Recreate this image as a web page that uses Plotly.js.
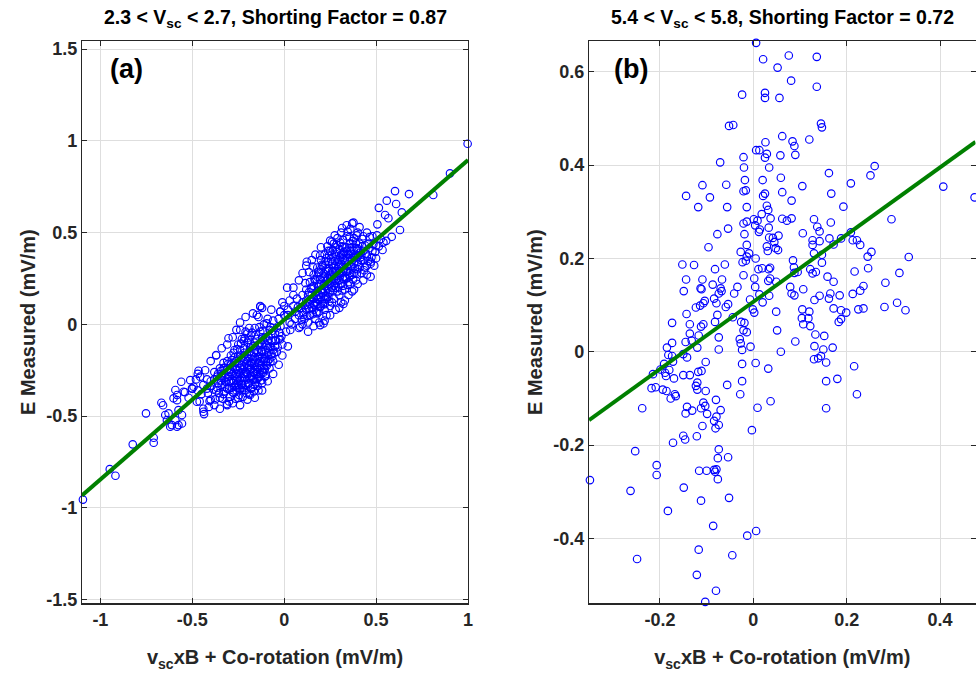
<!DOCTYPE html>
<html>
<head>
<meta charset="utf-8">
<script src="https://cdn.plot.ly/plotly-3.0.1.min.js"></script>
<style>html,body{margin:0;padding:0;background:#fff;}#chart{width:976px;height:673px;}</style>
</head>
<body>
<div id="chart"></div>
<script>
// ---------- Data ----------
// Panel (a): 2.3 < Vsc < 2.7  [x = vscxB + co-rotation, y = E measured] (mV/m)
const scatterA = [
// tail / outliers (negative side)
[-1.095,-0.955],[-0.949,-0.789],[-0.918,-0.825],[-0.824,-0.654],[-0.710,-0.645],[-0.710,-0.618],[-0.752,-0.485],
[-0.668,-0.427],[-0.659,-0.441],[-0.629,-0.485],[-0.620,-0.558],[-0.575,-0.549],[-0.556,-0.494],[-0.583,-0.413],
[-0.592,-0.358],[-0.560,-0.313],[-0.511,-0.304],[-0.575,-0.467],[-0.638,-0.522],[-0.466,-0.253],[-0.439,-0.476],
[-0.436,-0.489],[-0.406,-0.418],[-0.375,-0.409],[-0.312,-0.434],[-0.370,-0.167],[-0.502,-0.349],[-0.475,-0.422],
[-0.583,-0.385],[-0.602,-0.403],[-0.547,-0.367],[-0.493,-0.340],[-0.457,-0.285],[-0.647,-0.494],[-0.592,-0.522],
[-0.556,-0.540],[-0.583,-0.558],[-0.611,-0.549],
// negative cluster core
[-0.45,-0.38],[-0.42,-0.35],[-0.40,-0.41],[-0.38,-0.30],[-0.37,-0.36],[-0.36,-0.27],[-0.35,-0.40],[-0.34,-0.33],
[-0.33,-0.24],[-0.33,-0.38],[-0.32,-0.29],[-0.31,-0.35],[-0.31,-0.20],[-0.30,-0.26],[-0.30,-0.42],[-0.29,-0.31],
[-0.29,-0.17],[-0.28,-0.37],[-0.28,-0.23],[-0.27,-0.28],[-0.27,-0.14],[-0.26,-0.33],[-0.26,-0.20],[-0.25,-0.40],
[-0.25,-0.25],[-0.25,-0.11],[-0.24,-0.30],[-0.24,-0.17],[-0.23,-0.36],[-0.23,-0.22],[-0.23,-0.08],[-0.22,-0.27],
[-0.22,-0.13],[-0.21,-0.33],[-0.21,-0.19],[-0.21,-0.04],[-0.20,-0.24],[-0.20,-0.10],[-0.19,-0.38],[-0.19,-0.29],
[-0.19,-0.15],[-0.18,-0.21],[-0.18,-0.06],[-0.17,-0.34],[-0.17,-0.26],[-0.17,-0.12],[-0.16,-0.18],[-0.16,-0.02],
[-0.15,-0.30],[-0.15,-0.23],[-0.15,-0.08],[-0.14,-0.15],[-0.14,-0.36],[-0.13,-0.27],[-0.13,-0.20],[-0.13,-0.04],
[-0.12,-0.11],[-0.12,-0.32],[-0.11,-0.24],[-0.11,-0.16],[-0.11,0.00],[-0.10,-0.07],[-0.10,-0.28],[-0.09,-0.20],
[-0.09,-0.13],[-0.08,-0.03],[-0.08,-0.24],[-0.07,-0.16],[-0.07,-0.09],[-0.06,0.02],[-0.06,-0.20],[-0.05,-0.12],
[-0.05,-0.05],[-0.04,-0.15],[-0.03,0.03],[-0.03,-0.08],[-0.02,-0.01],[-0.01,-0.11],[0.00,0.05],[0.01,-0.04],
[-0.36,-0.32],[-0.34,-0.28],[-0.32,-0.34],[-0.30,-0.31],[-0.29,-0.26],[-0.28,-0.32],[-0.27,-0.21],[-0.26,-0.27],
[-0.26,-0.36],[-0.25,-0.31],[-0.24,-0.24],[-0.24,-0.35],[-0.23,-0.29],[-0.22,-0.20],[-0.22,-0.31],[-0.21,-0.26],
[-0.21,-0.36],[-0.20,-0.17],[-0.20,-0.30],[-0.19,-0.22],[-0.18,-0.28],[-0.18,-0.35],[-0.17,-0.19],[-0.17,-0.30],
[-0.16,-0.24],[-0.16,-0.33],[-0.15,-0.14],[-0.15,-0.27],[-0.14,-0.21],[-0.14,-0.29],[-0.13,-0.10],[-0.13,-0.24],
[-0.12,-0.18],[-0.12,-0.26],[-0.11,-0.20],[-0.10,-0.14],[-0.10,-0.22],[-0.09,-0.09],[-0.09,-0.17],[-0.08,-0.12],
[-0.08,-0.19],[-0.07,-0.05],[-0.06,-0.14],[-0.05,-0.09],[-0.04,-0.02],[-0.24,-0.14],[-0.22,-0.09],[-0.20,-0.05],
[-0.18,-0.11],[-0.19,-0.02],[-0.27,-0.18],[-0.29,-0.22],[-0.31,-0.25],[-0.33,-0.21],[-0.35,-0.24],[-0.38,-0.26],
[-0.40,-0.31],[-0.42,-0.30],[-0.44,-0.33],[-0.47,-0.36],[-0.48,-0.30],
[-0.345,-0.305],[-0.325,-0.265],[-0.315,-0.315],[-0.305,-0.285],[-0.295,-0.245],[-0.285,-0.345],[-0.275,-0.305],
[-0.265,-0.245],[-0.255,-0.285],[-0.255,-0.345],[-0.245,-0.215],[-0.245,-0.265],[-0.235,-0.325],[-0.235,-0.185],
[-0.225,-0.245],[-0.225,-0.345],[-0.215,-0.285],[-0.215,-0.155],[-0.205,-0.215],[-0.205,-0.265],[-0.195,-0.325],
[-0.195,-0.185],[-0.185,-0.245],[-0.185,-0.125],[-0.175,-0.285],[-0.175,-0.215],[-0.165,-0.155],[-0.165,-0.265],
[-0.155,-0.195],[-0.155,-0.315],[-0.145,-0.245],[-0.145,-0.115],[-0.135,-0.175],[-0.135,-0.285],[-0.125,-0.225],
[-0.125,-0.145],[-0.115,-0.265],[-0.115,-0.085],[-0.105,-0.185],[-0.105,-0.245],[-0.095,-0.115],[-0.095,-0.225],
[-0.085,-0.155],[-0.085,-0.065],[-0.075,-0.205],[-0.075,-0.125],[-0.065,-0.175],[-0.065,-0.035],[-0.055,-0.155],
[-0.045,-0.085],[-0.035,-0.125],[-0.025,-0.045],[-0.015,-0.065],[-0.365,-0.345],[-0.385,-0.355],[-0.395,-0.335],
[-0.415,-0.375],[-0.355,-0.375],[-0.335,-0.405],[-0.325,-0.365],[-0.295,-0.395],[-0.275,-0.375],[-0.265,-0.405],
[-0.245,-0.385],[-0.225,-0.395],[-0.205,-0.375],[-0.185,-0.385],[-0.165,-0.365],[-0.145,-0.335],[-0.125,-0.305],
[-0.105,-0.285],[-0.275,-0.155],[-0.255,-0.135],[-0.285,-0.195],[-0.305,-0.215],[-0.325,-0.235],[-0.345,-0.255],
[-0.365,-0.285],[-0.235,-0.105],[-0.215,-0.075],[-0.195,-0.085],[-0.175,-0.045],[-0.155,-0.055],[-0.135,-0.015],
[-0.115,-0.035],[-0.095,0.005],[-0.075,-0.015],
[-0.30,-0.35],[-0.28,-0.27],[-0.26,-0.30],[-0.24,-0.27],[-0.22,-0.23],[-0.20,-0.27],[-0.18,-0.24],[-0.16,-0.21],
[-0.14,-0.18],[-0.12,-0.15],[-0.10,-0.11],[-0.20,-0.20],[-0.18,-0.17],[-0.16,-0.14],[-0.14,-0.11],[-0.12,-0.07],
[-0.27,-0.34],[-0.23,-0.33],[-0.19,-0.32],[-0.15,-0.26],[-0.11,-0.19],[-0.32,-0.31],[-0.22,-0.17],[-0.16,-0.10],
// negative cluster periphery
[-0.50,-0.35],[-0.52,-0.40],[-0.54,-0.37],[-0.46,-0.42],[-0.44,-0.46],[-0.41,-0.45],[-0.38,-0.44],[-0.35,-0.46],
[-0.31,-0.44],[-0.28,-0.43],[-0.24,-0.44],[-0.20,-0.41],[-0.16,-0.40],[-0.12,-0.36],[-0.09,-0.31],[-0.06,-0.27],
[-0.03,-0.22],[-0.01,-0.17],[0.02,-0.12],[-0.37,-0.17],[-0.34,-0.13],[-0.31,-0.11],[-0.28,-0.07],[-0.26,-0.03],
[-0.24,0.01],[-0.21,0.04],[-0.17,0.06],[-0.14,0.04],[-0.12,0.09],[-0.09,0.03],[-0.07,0.08],[-0.13,0.10],
[-0.02,0.07],[0.03,0.01],[-0.40,-0.20],[-0.43,-0.25],[-0.47,-0.27],
[-0.130,0.096],[-0.149,0.051],[-0.022,0.069],[-0.022,-0.082],[0.033,-0.031],[0.087,-0.013],[0.196,-0.004],
[0.214,0.005],[0.322,0.111],[0.105,0.051],[-0.303,-0.076],[-0.239,-0.031],
[0.00,0.10],[0.03,0.13],[-0.01,0.12],[0.06,0.07],[0.02,0.08],
// positive cluster core
[0.08,0.05],[0.10,0.12],[0.11,0.03],[0.12,0.08],[0.13,0.16],[0.14,0.05],[0.14,0.11],[0.15,0.20],[0.16,0.08],
[0.16,0.14],[0.17,0.24],[0.17,0.03],[0.18,0.11],[0.18,0.18],[0.19,0.28],[0.19,0.07],[0.20,0.15],[0.20,0.22],
[0.21,0.32],[0.21,0.11],[0.22,0.19],[0.22,0.26],[0.23,0.05],[0.23,0.36],[0.23,0.14],[0.24,0.22],[0.24,0.29],
[0.25,0.10],[0.25,0.40],[0.25,0.18],[0.26,0.26],[0.26,0.33],[0.27,0.14],[0.27,0.21],[0.27,0.44],[0.28,0.29],
[0.28,0.37],[0.29,0.18],[0.29,0.25],[0.30,0.32],[0.30,0.41],[0.31,0.12],[0.31,0.22],[0.31,0.28],[0.32,0.36],
[0.32,0.46],[0.33,0.19],[0.33,0.26],[0.34,0.32],[0.34,0.40],[0.35,0.23],[0.35,0.29],[0.36,0.36],[0.36,0.44],
[0.37,0.18],[0.37,0.27],[0.38,0.33],[0.38,0.40],[0.39,0.24],[0.40,0.30],[0.40,0.37],[0.41,0.44],[0.42,0.28],
[0.42,0.35],[0.43,0.40],[0.44,0.31],[0.45,0.37],[0.46,0.44],[0.47,0.33],[0.48,0.40],
[0.12,0.13],[0.13,0.01],[0.15,0.09],[0.15,0.16],[0.16,0.21],[0.17,0.12],[0.18,0.06],[0.18,0.26],[0.19,0.16],
[0.19,0.22],[0.20,0.10],[0.20,0.30],[0.21,0.17],[0.21,0.25],[0.22,0.08],[0.22,0.14],[0.23,0.24],[0.23,0.30],
[0.24,0.17],[0.24,0.34],[0.25,0.27],[0.25,0.22],[0.26,0.12],[0.26,0.38],[0.27,0.31],[0.27,0.25],[0.28,0.20],
[0.28,0.42],[0.29,0.34],[0.29,0.29],[0.30,0.16],[0.30,0.24],[0.31,0.38],[0.31,0.33],[0.32,0.21],[0.32,0.29],
[0.33,0.42],[0.33,0.35],[0.34,0.25],[0.35,0.38],[0.35,0.33],[0.36,0.28],[0.36,0.22],[0.37,0.42],[0.37,0.35],
[0.38,0.28],[0.39,0.38],[0.39,0.44],[0.40,0.34],[0.41,0.31],[0.41,0.39],[0.43,0.35],[0.44,0.43],[0.45,0.32],
[0.29,0.47],[0.31,0.50],[0.34,0.48],[0.36,0.52],[0.38,0.47],[0.26,0.45],[0.24,0.40],[0.22,0.38],[0.20,0.35],
[0.18,0.31],[0.16,0.27],[0.14,0.23],[0.12,0.19],[0.10,0.16],[0.09,0.09],
[0.125,0.045],[0.135,0.085],[0.145,0.135],[0.155,0.055],[0.165,0.105],[0.175,0.155],[0.175,0.065],[0.185,0.205],
[0.185,0.135],[0.195,0.095],[0.195,0.245],[0.205,0.185],[0.205,0.125],[0.215,0.275],[0.215,0.215],[0.225,0.155],
[0.225,0.325],[0.235,0.255],[0.235,0.195],[0.245,0.125],[0.245,0.305],[0.255,0.245],[0.255,0.355],[0.265,0.185],
[0.265,0.285],[0.275,0.345],[0.275,0.225],[0.285,0.265],[0.285,0.395],[0.295,0.205],[0.295,0.315],[0.305,0.265],
[0.305,0.365],[0.315,0.185],[0.315,0.425],[0.325,0.305],[0.325,0.245],[0.335,0.375],[0.335,0.285],[0.345,0.345],
[0.345,0.215],[0.355,0.415],[0.355,0.265],[0.365,0.315],[0.365,0.385],[0.375,0.245],[0.375,0.455],[0.385,0.305],
[0.385,0.365],[0.395,0.415],[0.395,0.275],[0.405,0.325],[0.415,0.365],[0.425,0.425],[0.435,0.295],[0.445,0.385],
[0.455,0.345],[0.465,0.415],[0.475,0.365],[0.485,0.435],[0.495,0.395],[0.515,0.425],[0.525,0.465],[0.505,0.485],
[0.465,0.475],[0.425,0.465],[0.395,0.485],[0.355,0.475],[0.325,0.395],[0.305,0.445],[0.285,0.435],[0.265,0.405],
[0.245,0.375],[0.225,0.345],[0.205,0.325],[0.185,0.285],[0.165,0.245],[0.145,0.195],[0.135,0.175],[0.115,0.105],
[0.105,0.065],[0.095,0.025],[0.075,0.095],[0.115,0.225],[0.135,0.285],[0.155,0.315],[0.195,0.375],[0.235,0.425],
[0.275,0.485],[0.315,0.525],[0.345,0.505],[0.555,0.455],[0.535,0.405],
[0.20,0.19],[0.22,0.22],[0.24,0.25],[0.26,0.29],[0.28,0.32],[0.30,0.35],[0.32,0.38],[0.34,0.42],[0.36,0.40],
[0.30,0.28],[0.28,0.24],[0.26,0.20],[0.24,0.15],[0.22,0.11],[0.34,0.29],[0.38,0.37],[0.40,0.41],[0.42,0.38],
[0.18,0.14],[0.16,0.11],[0.32,0.25],[0.36,0.32],
// positive cluster periphery
[0.02,0.05],[0.04,0.00],[0.05,0.10],[0.06,0.03],[0.07,0.14],[0.08,-0.02],[0.10,0.00],[0.13,-0.04],[0.16,-0.01],
[0.19,0.01],[0.22,0.02],[0.25,0.05],[0.28,0.08],[0.30,0.09],[0.33,0.13],[0.35,0.16],[0.38,0.19],[0.40,0.22],
[0.43,0.24],[0.45,0.27],[0.47,0.26],[0.49,0.32],[0.50,0.36],[0.50,0.43],[0.48,0.48],[0.45,0.50],[0.43,0.48],
[0.41,0.53],[0.40,0.50],[0.37,0.55],[0.34,0.54],[0.05,0.20],[0.08,0.24],[0.10,0.28],[0.12,0.32],[0.123,0.341],
[0.15,0.35],[0.17,0.38],[0.20,0.42],[0.25,0.456],[0.016,0.20],[0.05,0.16],
// upper outliers
[0.998,0.984],[0.902,0.823],[0.811,0.705],[0.603,0.726],[0.679,0.710],[0.558,0.674],[0.515,0.635],[0.609,0.656],
[0.549,0.596],[0.567,0.578],[0.640,0.610],[0.630,0.514],[0.585,0.477],[0.540,0.447],[0.507,0.545],[0.377,0.554],
[0.471,0.341]
];

// Panel (b): 5.4 < Vsc < 5.8
const scatterB = [
[0.006,0.662],[0.021,0.627],[0.052,0.609],[0.076,0.635],[0.136,0.632],[0.081,0.581],[0.136,0.568],[-0.024,0.551],
[0.025,0.555],[0.025,0.544],[0.056,0.544],[-0.052,0.484],[-0.043,0.486],[0.145,0.489],[0.147,0.481],[0.120,0.455],
[0.062,0.462],[0.084,0.451],[0.088,0.441],[0.090,0.422],[0.058,0.421],[0.026,0.449],[0.006,0.432],[0.013,0.432],
[0.029,0.424],[0.025,0.416],[-0.021,0.417],[-0.020,0.395],[0.034,0.395],[-0.071,0.406],[0.059,0.373],[0.020,0.368],
[-0.018,0.368],[-0.109,0.357],[-0.058,0.358],[-0.021,0.344],[-0.016,0.346],[0.062,0.342],[0.025,0.339],[0.021,0.334],
[-0.144,0.334],[-0.093,0.331],[-0.118,0.310],[-0.056,0.310],[-0.014,0.310],[0.029,0.313],[0.032,0.304],[0.082,0.324],
[0.105,0.355],[0.162,0.383],[0.167,0.339],[0.209,0.361],[0.193,0.311],[0.251,0.378],[0.260,0.398],[0.407,0.354],
[0.474,0.331],[0.296,0.284],[0.018,0.295],[0.037,0.286],[0.001,0.284],[0.009,0.281],[-0.014,0.279],[-0.021,0.275],
[0.004,0.271],[0.014,0.262],[0.033,0.266],[0.012,0.257],[0.062,0.285],[0.072,0.281],[0.082,0.286],[0.130,0.284],
[0.166,0.277],[0.137,0.268],[0.142,0.258],[-0.077,0.252],[-0.054,0.264],[-0.019,0.252],[0.106,0.254],[0.054,0.249],
[0.042,0.244],[0.034,0.245],[0.045,0.235],[0.029,0.226],[0.048,0.222],[0.031,0.216],[0.053,0.218],[-0.096,0.224],
[-0.014,0.229],[-0.027,0.214],[-0.009,0.211],[-0.014,0.204],[0.005,0.200],[-0.016,0.195],[0.127,0.239],[0.127,0.229],
[0.142,0.237],[0.163,0.243],[0.172,0.230],[0.188,0.243],[0.209,0.256],[0.213,0.239],[0.222,0.239],[0.229,0.229],
[0.253,0.214],[0.245,0.204],[0.333,0.203],[0.130,0.211],[0.147,0.208],[0.147,0.191],[0.085,0.196],[0.087,0.181],
[0.095,0.171],[0.088,0.169],[0.122,0.177],[0.127,0.168],[0.134,0.171],[0.217,0.172],[0.246,0.179],[0.313,0.169],
[0.283,0.148],[0.236,0.141],[0.229,0.131],[0.213,0.124],[0.159,0.161],[0.172,0.150],[0.185,0.121],[0.165,0.125],
[0.142,0.120],[0.131,0.111],[0.162,0.114],[0.107,0.134],[0.079,0.139],[0.088,0.121],[0.082,0.125],[-0.152,0.187],
[-0.127,0.186],[-0.144,0.155],[-0.149,0.130],[-0.109,0.155],[-0.113,0.136],[-0.111,0.134],[-0.082,0.177],[-0.061,0.187],
[-0.067,0.155],[-0.087,0.144],[-0.070,0.136],[-0.074,0.125],[-0.068,0.130],[-0.084,0.114],[-0.104,0.109],[-0.107,0.104],
[-0.123,0.095],[-0.114,0.099],[-0.143,0.081],[-0.079,0.104],[-0.054,0.102],[-0.059,0.096],[-0.041,0.125],[-0.034,0.139],
[-0.021,0.164],[-0.023,0.192],[0.002,0.157],[0.011,0.177],[0.019,0.179],[0.033,0.177],[0.036,0.180],[0.036,0.157],
[0.032,0.152],[0.049,0.150],[0.004,0.139],[0.013,0.123],[0.034,0.120],[-0.007,0.112],[0.020,0.106],[-0.001,0.091],
[0.002,0.084],[0.049,0.086],[0.105,0.091],[0.120,0.086],[0.172,0.093],[0.188,0.089],[0.199,0.084],[0.225,0.091],
[0.236,0.093],[0.281,0.096],[0.308,0.105],[0.326,0.089],
[-0.174,0.062],[-0.136,0.059],[-0.107,0.059],[-0.112,0.054],[-0.136,0.039],[-0.117,0.035],[-0.145,0.021],[-0.132,0.024],
[-0.120,0.009],[-0.185,0.009],[-0.174,0.019],[-0.182,-0.007],[-0.174,-0.009],[-0.150,-0.005],[-0.142,-0.012],[-0.172,-0.021],
[-0.191,-0.026],[-0.199,-0.038],[-0.215,-0.048],[-0.189,-0.045],[-0.180,-0.039],[-0.187,-0.052],[-0.170,-0.057],[-0.150,-0.050],
[-0.136,-0.050],[-0.118,-0.043],[-0.111,-0.041],[-0.102,-0.022],[-0.120,-0.066],[-0.123,-0.073],[-0.120,-0.081],[-0.102,-0.084],
[-0.218,-0.078],[-0.209,-0.076],[-0.194,-0.081],[-0.186,-0.084],[-0.177,-0.100],[-0.166,-0.095],[-0.168,-0.091],[-0.238,-0.121],
[-0.145,-0.132],[-0.142,-0.118],[-0.131,-0.126],[-0.112,-0.121],[-0.107,-0.109],[-0.103,-0.116],[-0.099,-0.133],[-0.080,-0.103],
[-0.070,-0.125],[-0.084,-0.148],[-0.079,-0.139],[-0.074,-0.157],[-0.081,-0.164],[-0.109,-0.159],[-0.121,-0.181],[-0.150,-0.180],
[-0.146,-0.188],[-0.172,-0.195],[-0.253,-0.213],[-0.207,-0.243],[-0.207,-0.264],[-0.074,-0.209],[-0.076,-0.228],[-0.054,-0.226],
[-0.116,-0.255],[-0.100,-0.255],[-0.084,-0.253],[-0.079,-0.252],[-0.082,-0.257],[-0.076,-0.273],[-0.350,-0.275],[-0.263,-0.298],
[-0.149,-0.291],[-0.112,-0.319],[-0.052,-0.313],[-0.183,-0.341],[-0.086,-0.373],[-0.013,-0.394],[0.006,-0.384],[-0.117,-0.424],
[-0.045,-0.436],[-0.249,-0.444],[-0.121,-0.478],[-0.080,-0.512],[-0.103,-0.536],
[-0.074,0.031],[-0.074,0.005],[-0.056,-0.071],[-0.029,0.027],[-0.027,0.018],[-0.024,0.004],[-0.006,0.011],[-0.024,-0.026],
[0.005,-0.024],[-0.024,-0.063],[-0.028,-0.091],[0.032,-0.036],[0.037,-0.106],[0.009,-0.120],[-0.003,-0.168],[0.059,0.000],
[0.051,0.046],[0.090,0.022],[0.131,0.012],[0.133,0.037],[0.152,0.034],[0.150,0.005],[0.170,0.009],[0.145,-0.009],
[0.130,-0.016],[0.139,-0.014],[0.156,-0.023],[0.156,-0.063],[0.180,-0.058],[0.156,-0.121],[0.216,-0.031],[0.222,-0.091],
[0.122,0.055],[0.104,0.072],[0.118,0.072],[0.107,0.059],[0.183,0.064],[0.188,0.070],[-0.026,0.064],[-0.019,0.062],
[-0.021,0.046],[-0.014,0.042],[-0.044,0.074],[-0.082,0.064],[-0.077,0.079]
];

// Linear fits (slope = shorting factor, intercept)
const fitSlope = [0.87, 0.72];
const fitIntercept = [0.025, 0.107];

// Axis ranges and ticks
const xRangeA = [-1.1, 1.0],   yRangeA = [-1.52, 1.544];
const xRangeB = [-0.352, 0.476], yRangeB = [-0.539, 0.666];
const xTicksA = [-1, -0.5, 0, 0.5, 1],       xTickTextA = ['-1','-0.5','0','0.5','1'];
const yTicksA = [-1.5, -1, -0.5, 0, 0.5, 1, 1.5], yTickTextA = ['-1.5','-1','-0.5','0','0.5','1','1.5'];
const xTicksB = [-0.2, 0, 0.2, 0.4],         xTickTextB = ['-0.2','0','0.2','0.4'];
const yTicksB = [-0.4, -0.2, 0, 0.2, 0.4, 0.6], yTickTextB = ['-0.4','-0.2','0','0.2','0.4','0.6'];

const titles = ['2.3 < V<sub>sc</sub> < 2.7, Shorting Factor = 0.87', '5.4 < V<sub>sc</sub> < 5.8, Shorting Factor = 0.72'];
const panelLabels = ['(a)', '(b)'];
const xTitle = 'v<sub>sc</sub>xB + Co-rotation (mV/m)';
const yTitle = 'E Measured (mV/m)';

// ---------- Plot ----------
const W = 976, H = 673;
const FONT = 'Liberation Sans, Arial, Helvetica, sans-serif';
const ink = '#262626';

function fitLine(range, k) {
  return { x: [range[0], range[1]], y: [fitSlope[k]*range[0]+fitIntercept[k], fitSlope[k]*range[1]+fitIntercept[k]] };
}
const fa = fitLine(xRangeA, 0), fb = fitLine(xRangeB, 1);

const markerStyle = { symbol: 'circle-open', size: 7.5, color: '#0000ff', line: { width: 1.15, color: '#0000ff' } };

const traces = [
  { type: 'scatter', mode: 'markers', x: scatterA.map(p => p[0]), y: scatterA.map(p => p[1]),
    xaxis: 'x', yaxis: 'y', marker: markerStyle, cliponaxis: false, hoverinfo: 'skip' },
  { type: 'scatter', mode: 'lines', x: fa.x, y: fa.y, xaxis: 'x', yaxis: 'y',
    line: { color: '#008000', width: 4 }, hoverinfo: 'skip' },
  { type: 'scatter', mode: 'markers', x: scatterB.map(p => p[0]), y: scatterB.map(p => p[1]),
    xaxis: 'x2', yaxis: 'y2', marker: markerStyle, cliponaxis: false, hoverinfo: 'skip' },
  { type: 'scatter', mode: 'lines', x: fb.x, y: fb.y, xaxis: 'x2', yaxis: 'y2',
    line: { color: '#008000', width: 4 }, hoverinfo: 'skip' }
];

const plotTop = 41, plotBottom = 603.3;
const yDomain = [(H - plotBottom) / H, (H - plotTop) / H];
const titleFont = { family: FONT, size: 20, color: ink, weight: 'bold' };

function axisCommon(extra) {
  return Object.assign({
    showline: true, mirror: 'ticks', linecolor: ink, linewidth: 1.2,
    ticks: 'inside', ticklen: 5, tickcolor: ink, tickwidth: 1,
    showgrid: true, gridcolor: '#dedede', gridwidth: 1,
    zeroline: false, tickmode: 'array',
    tickfont: { family: FONT, size: 18, color: ink, weight: 'bold' },
    fixedrange: true
  }, extra);
}

const layout = {
  width: W, height: H,
  margin: { l: 0, r: 0, t: 0, b: 0 },
  paper_bgcolor: '#ffffff', plot_bgcolor: '#ffffff',
  showlegend: false,
  xaxis: axisCommon({ domain: [82 / W, 468 / W], range: xRangeA, tickvals: xTicksA, ticktext: xTickTextA,
    anchor: 'y', title: { text: xTitle, standoff: 21, font: titleFont } }),
  yaxis: axisCommon({ domain: yDomain, range: yRangeA, tickvals: yTicksA, ticktext: yTickTextA,
    anchor: 'x', title: { text: yTitle, standoff: 5, font: titleFont } }),
  xaxis2: axisCommon({ domain: [589 / W, 975.5 / W], range: xRangeB, tickvals: xTicksB, ticktext: xTickTextB,
    anchor: 'y2', title: { text: xTitle, standoff: 21, font: titleFont } }),
  yaxis2: axisCommon({ domain: yDomain, range: yRangeB, tickvals: yTicksB, ticktext: yTickTextB,
    anchor: 'x2', title: { text: yTitle, standoff: 5, font: titleFont } }),
  annotations: [
    { text: titles[0], xref: 'paper', yref: 'paper', x: 275 / W, y: (H - 18) / H, xanchor: 'center', yanchor: 'middle',
      showarrow: false, font: { family: FONT, size: 19.5, color: '#000', weight: 'bold' } },
    { text: titles[1], xref: 'paper', yref: 'paper', x: 782 / W, y: (H - 18) / H, xanchor: 'center', yanchor: 'middle',
      showarrow: false, font: { family: FONT, size: 19.5, color: '#000', weight: 'bold' } },
    { text: panelLabels[0], xref: 'paper', yref: 'paper', x: 127 / W, y: (H - 69) / H, xanchor: 'center', yanchor: 'middle',
      showarrow: false, font: { family: FONT, size: 27, color: '#000', weight: 'bold' } },
    { text: panelLabels[1], xref: 'paper', yref: 'paper', x: 631 / W, y: (H - 69) / H, xanchor: 'center', yanchor: 'middle',
      showarrow: false, font: { family: FONT, size: 27, color: '#000', weight: 'bold' } }
  ]
};

Plotly.newPlot('chart', traces, layout, { staticPlot: true, displayModeBar: false });
</script>
</body>
</html>
